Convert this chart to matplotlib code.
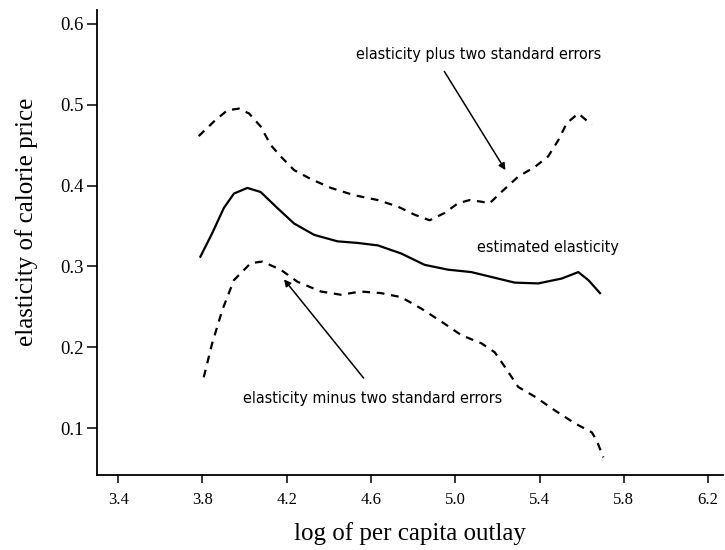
import matplotlib.pyplot as plt

# upper band: elasticity plus two standard errors
upper_x = [3.782, 3.854, 3.918, 3.973, 4.021, 4.076, 4.124, 4.171, 4.235, 4.314, 4.41,
           4.52, 4.632, 4.727, 4.806, 4.878, 4.949, 5.013, 5.068, 5.124, 5.163, 5.219,
           5.299, 5.378, 5.441, 5.489, 5.529, 5.584, 5.648]
upper_y = [0.461, 0.479, 0.493, 0.495, 0.489, 0.473, 0.450, 0.436, 0.419, 0.408, 0.397,
           0.388, 0.382, 0.374, 0.364, 0.357, 0.366, 0.378, 0.382, 0.380, 0.378, 0.392,
           0.411, 0.423, 0.436, 0.456, 0.477, 0.489, 0.475]

# estimated elasticity
est_x = [3.79, 3.846, 3.901, 3.949, 4.013, 4.076, 4.156, 4.235, 4.33, 4.441, 4.537,
         4.632, 4.743, 4.854, 4.965, 5.076, 5.171, 5.282, 5.394, 5.505, 5.584, 5.632, 5.687]
est_y = [0.312, 0.341, 0.372, 0.390, 0.397, 0.392, 0.372, 0.353, 0.339, 0.331, 0.329,
         0.326, 0.316, 0.302, 0.296, 0.293, 0.287, 0.280, 0.279, 0.285, 0.293, 0.283, 0.267]

# lower band: elasticity minus two standard errors
lower_x = [3.806, 3.846, 3.894, 3.949, 4.029, 4.084, 4.171, 4.251, 4.362, 4.457, 4.552,
           4.648, 4.743, 4.838, 4.933, 5.029, 5.124, 5.187, 5.235, 5.299, 5.378, 5.473,
           5.568, 5.648, 5.671, 5.703]
lower_y = [0.163, 0.205, 0.246, 0.283, 0.304, 0.306, 0.296, 0.281, 0.269, 0.265, 0.269,
           0.267, 0.262, 0.248, 0.232, 0.215, 0.205, 0.194, 0.176, 0.151, 0.139, 0.122,
           0.106, 0.095, 0.085, 0.064]

xticks = [3.4, 3.8, 4.2, 4.6, 5.0, 5.4, 5.8, 6.2]
yticks = [0.1, 0.2, 0.3, 0.4, 0.5, 0.6]

plt.rcParams['font.family'] = 'Liberation Serif'

fig = plt.figure(figsize=(7.25, 5.5), dpi=100)
ax = fig.add_axes([0.134, 0.136, 0.863, 0.846])

dash = (0, (3.5, 3))
ax.plot(upper_x, upper_y, color='black', lw=1.6, linestyle=dash)
ax.plot(est_x, est_y, color='black', lw=1.6)
ax.plot(lower_x, lower_y, color='black', lw=1.6, linestyle=dash)

note = dict(fontsize=11.5, family='DejaVu Sans', fontstretch='condensed', ha='center', va='center')
arrow = dict(arrowstyle='-|>', color='black', lw=1.1, shrinkA=0, shrinkB=0, mutation_scale=10)

ax.text(5.11, 0.562, 'elasticity plus two standard errors', **note)
ax.annotate('', xy=(5.238, 0.419), xytext=(4.948, 0.541), arrowprops=arrow)
ax.text(5.438, 0.324, 'estimated elasticity', **note)
ax.text(4.61, 0.137, 'elasticity minus two standard errors', **note)
ax.annotate('', xy=(4.187, 0.284), xytext=(4.565, 0.162), arrowprops=arrow)

ax.set_xlim(3.3, 6.27)
ax.set_ylim(0.042, 0.617)
ax.set_xticks(xticks)
ax.set_xticklabels(['%.1f' % t for t in xticks])
ax.set_yticks(yticks)
ax.set_yticklabels(['%.1f' % t for t in yticks])
ax.spines['top'].set_visible(False)
ax.spines['right'].set_visible(False)
ax.spines['left'].set_linewidth(1.3)
ax.spines['bottom'].set_linewidth(1.3)
ax.tick_params(axis='both', direction='out', width=1.1)
ax.tick_params(axis='x', length=6, pad=6, labelsize=12)
ax.tick_params(axis='y', length=7, pad=3, labelsize=13.5)

ax.set_xlabel('log of per capita outlay', fontsize=18, labelpad=10)
ax.set_ylabel('elasticity of calorie price', fontsize=18)
ax.yaxis.set_label_coords(-0.095, 0.544)

fig.savefig('out.png', dpi=100)
